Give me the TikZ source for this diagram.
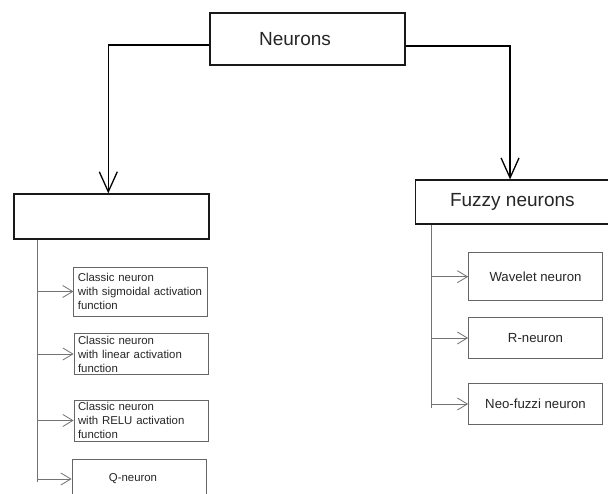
\documentclass[tikz,border=0pt]{standalone}
\usepackage{fontspec}
\setmainfont{Liberation Sans}
\usetikzlibrary{arrows.meta}
\begin{document}
\begin{tikzpicture}[x=1pt,y=-1pt,
  bigbox/.style={draw=black!90, line width=1.1pt, inner sep=0pt, font=\fontsize{19}{22}\selectfont, text=black!85},
  cbox/.style={draw=black!60, line width=0.8pt, inner xsep=4pt, inner ysep=0pt, text width=126pt, align=left, font=\fontsize{11.4}{14}\selectfont, text=black!85},
  rbox/.style={draw=black!60, line width=0.8pt, inner sep=0pt, minimum width=134pt, font=\fontsize{13.2}{16}\selectfont, text=black!85},
  mainarrow/.style={draw=black, line width=1.3pt, -{Straight Barb[length=20pt,width=18pt]}},
  spine/.style={draw=black!55, line width=0.8pt},
  sarrow/.style={spine, -{Straight Barb[length=10pt,width=12pt]}}]
\fill[white] (0,0) rectangle (608,494);
\useasboundingbox (0,0) rectangle (608,494);

% top level
\node[bigbox, minimum width=195pt, minimum height=52pt,
      label={[font=\fontsize{19}{22}\selectfont, text=black!85, xshift=-12.5pt]center:Neurons}] (top) at (307.5,39) {};
\node[bigbox, line width=1.3pt, minimum width=195pt, minimum height=45pt] (L) at (111.5,216.5) {};
\node[bigbox, minimum width=193.3pt, minimum height=44pt] (F) at (512.35,202) {Fuzzy neurons};

\draw[mainarrow] ([yshift=-6pt]top.west) -| ([xshift=-3.2pt]L.north);
\draw[mainarrow] ([yshift=-7pt]top.east) -| ([xshift=-2.3pt]F.north);

% left children
\node[cbox, minimum height=49pt] (c1) at (140.85,291.5) {Classic neuron\\with sigmoidal activation\\function};
\node[cbox, minimum height=40.3pt] (c2) at (141,354) {Classic neuron\\with linear activation\\function};
\node[cbox, minimum height=41pt] (c3) at (141,420.5) {Classic neuron\\with RELU activation\\function};
\node[rbox, minimum height=38pt,
      label={[font=\fontsize{11.4}{14}\selectfont, text=black!85, xshift=-6pt, yshift=-1pt]center:Q-neuron}] (q) at (139,478) {};

\coordinate (sL) at ([xshift=23.7pt]L.south west);
\coordinate (sLe) at ([yshift=-242pt]sL);
\draw[spine] (sL) -- (sLe);
\draw[sarrow] (sL |- c1.west) -- (c1.west);
\draw[sarrow] (sL |- c2.west) -- (c2.west);
\draw[sarrow] (sL |- c3.west) -- (c3.west);
\draw[sarrow] ([yshift=-1pt]sL |- q.west) -- ([yshift=-1pt]q.west);

% right children
\node[rbox, minimum height=48pt] (w) at (535.5,276.7) {Wavelet neuron};
\node[rbox, minimum height=41pt] (r) at (535.5,338) {R-neuron};
\node[rbox, minimum height=41pt] (n) at (535.5,404) {Neo-fuzzi neuron};

\coordinate (sR) at ([xshift=16.6pt]F.south west);
\coordinate (sRe) at ([yshift=-183pt]sR);
\draw[spine] (sR) -- (sRe);
\draw[sarrow] (sR |- w.west) -- (w.west);
\draw[sarrow] (sR |- r.west) -- (r.west);
\draw[sarrow] (sR |- n.west) -- (n.west);
\end{tikzpicture}
\end{document}
